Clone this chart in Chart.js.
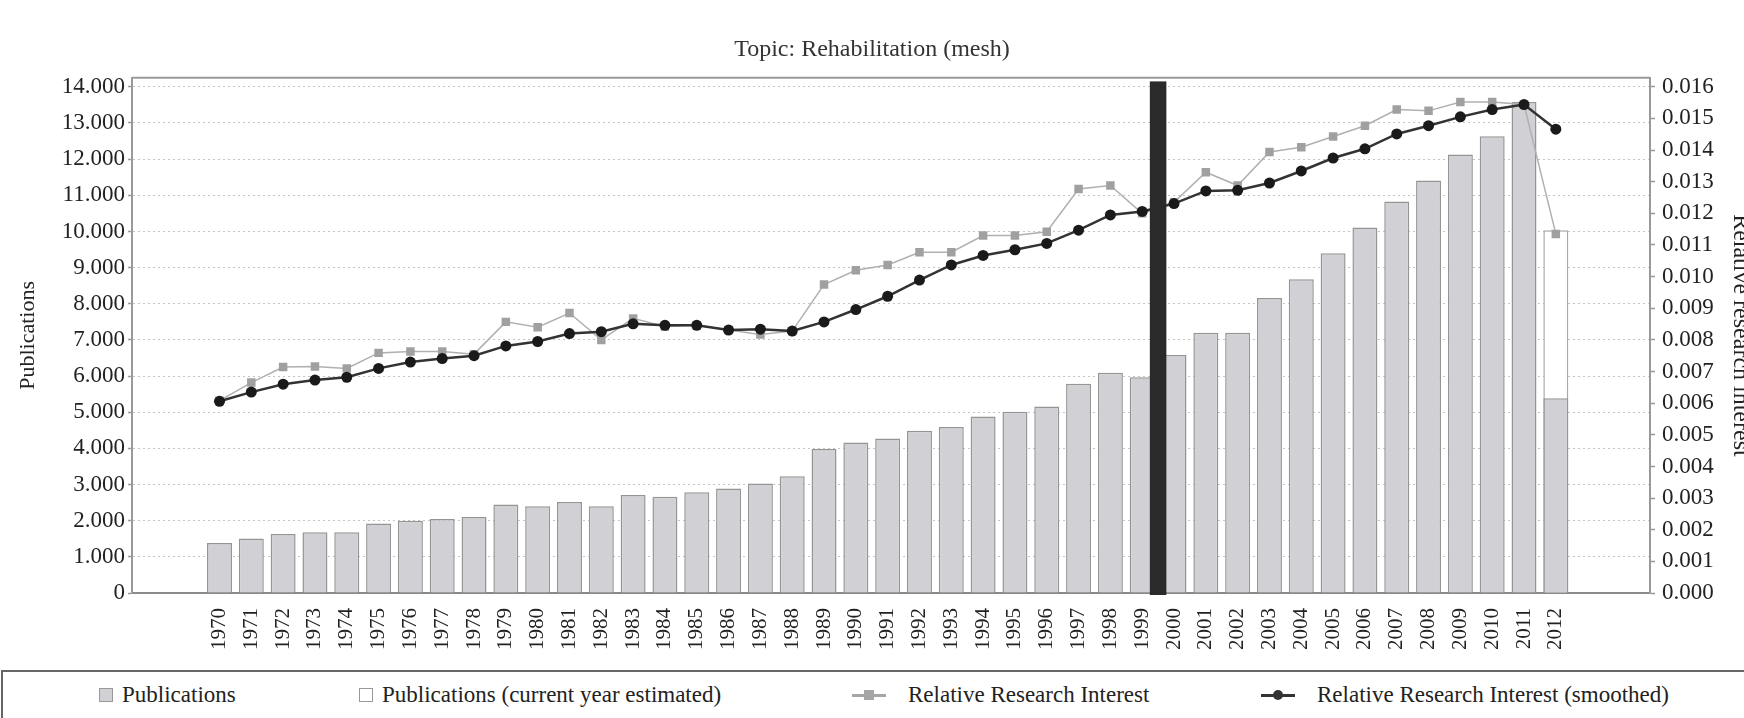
<!DOCTYPE html>
<html>
<head>
<meta charset="utf-8">
<script src="https://cdn.jsdelivr.net/npm/chart.js@4.4.1/dist/chart.umd.min.js"></script>
<style>
  html, body { margin: 0; padding: 0; background: #fff; overflow: hidden; }
  #wrap { position: relative; width: 1744px; height: 718px; }
  #chart { position: absolute; left: 0; top: 0; }
  #legenda { position: absolute; left: 1px; top: 670px; width: 1800px; height: 80px;
             border: 2px solid #666; box-sizing: border-box; font: 23px "Liberation Serif", serif; color: #222; }
  .item { position: absolute; top: 10px; display: flex; align-items: center; white-space: nowrap; }
  .box { width: 12px; height: 12px; border: 1px solid #999; margin-right: 9px; }
  .linha { position: relative; width: 34px; height: 12px; margin-right: 22px; }
  .linha::before { content: ""; position: absolute; left: 0; right: 0; top: 5px; height: 3px; background: var(--c); }
  .linha span { position: absolute; left: 12px; top: 1px; width: 10px; height: 10px; background: var(--c); }
</style>
</head>
<body>
<div id="wrap">
  <canvas id="chart" width="1744" height="660"></canvas>
  <div id="legenda">
    <div class="item" style="left:96px"><div class="box" style="background:#d1d1d5"></div>Publications</div>
    <div class="item" style="left:356px"><div class="box" style="background:#fff"></div>Publications (current year estimated)</div>
    <div class="item" style="left:849px"><div class="linha" style="--c:#a6a6a6"><span></span></div>Relative Research Interest</div>
    <div class="item" style="left:1258px"><div class="linha" style="--c:#333"><span style="border-radius:50%"></span></div>Relative Research Interest (smoothed)</div>
  </div>
</div>
<script>
const anos = [1970, 1971, 1972, 1973, 1974, 1975, 1976, 1977, 1978, 1979,
              1980, 1981, 1982, 1983, 1984, 1985, 1986, 1987, 1988, 1989,
              1990, 1991, 1992, 1993, 1994, 1995, 1996, 1997, 1998, 1999,
              2000, 2001, 2002, 2003, 2004, 2005, 2006, 2007, 2008, 2009,
              2010, 2011, 2012];

const publicacoes = [1380, 1510, 1630, 1680, 1680, 1920, 2000, 2050, 2100, 2450,
                     2400, 2520, 2400, 2710, 2660, 2790, 2890, 3030, 3230, 3980,
                     4160, 4270, 4490, 4590, 4880, 5010, 5160, 5790, 6090, 5970,
                     6580, 7200, 7200, 8160, 8680, 9400, 10110, 10830, 11410, 12130,
                     12630, 13580, 5390];

// ano corrente estimado (so 2012)
const anosEstimados = [2012];
const publicacoesEstimadas = [10030];

const interesse = [0.00608, 0.00665, 0.00714, 0.00716, 0.00710, 0.00759, 0.00763, 0.00763, 0.00755, 0.00857,
                   0.00840, 0.00885, 0.00800, 0.00868, 0.00842, 0.00846, 0.00831, 0.00817, 0.00828, 0.00975,
                   0.01020, 0.01037, 0.01077, 0.01077, 0.01130, 0.01130, 0.01142, 0.01277, 0.01288, 0.01200,
                   0.01235, 0.01330, 0.01288, 0.01394, 0.01409, 0.01443, 0.01477, 0.01528, 0.01524, 0.01552,
                   0.01552, 0.01544, 0.01135];

const interesseSuave = [0.00606, 0.00635, 0.00660, 0.00673, 0.00682, 0.00710, 0.00730, 0.00741, 0.00750, 0.00781,
                        0.00795, 0.00820, 0.00826, 0.00851, 0.00846, 0.00846, 0.00831, 0.00834, 0.00828, 0.00857,
                        0.00896, 0.00938, 0.00989, 0.01037, 0.01067, 0.01085, 0.01105, 0.01147, 0.01195, 0.01206,
                        0.01231, 0.01271, 0.01273, 0.01296, 0.01334, 0.01375, 0.01404, 0.01451, 0.01477, 0.01505,
                        0.01528, 0.01544, 0.01466];

const ticksPub = [0, 1000, 2000, 3000, 4000, 5000, 6000, 7000, 8000, 9000, 10000, 11000, 12000, 13000, 14000];
const ticksInteresse = [0, 0.001, 0.002, 0.003, 0.004, 0.005, 0.006, 0.007, 0.008,
                        0.009, 0.010, 0.011, 0.012, 0.013, 0.014, 0.015, 0.016];

// marcador vertical entre 1999 e 2000
const divisorAno = 1999.5;
const divisorTopo = 14150;

const fonteSerif = '"Liberation Serif", "Times New Roman", serif';

const pares = (xs, ys) => xs.map((x, i) => ({ x: x, y: ys[i] }));

const molduraPlugin = {
    id: 'moldura',
    afterDatasetsDraw(chart) {
        const { ctx, chartArea, scales } = chart;
        // barra preta
        const x0 = scales.x.getPixelForValue(divisorAno - 0.26);
        const x1 = scales.x.getPixelForValue(divisorAno + 0.26);
        const yTop = scales.y.getPixelForValue(divisorTopo);
        ctx.save();
        ctx.fillStyle = '#2a2a2a';
        ctx.fillRect(x0, yTop, x1 - x0, chartArea.bottom + 2 - yTop);
        // linha de cima
        ctx.strokeStyle = '#9a9a9a';
        ctx.lineWidth = 2;
        ctx.beginPath();
        ctx.moveTo(chartArea.left, chartArea.top);
        ctx.lineTo(chartArea.right, chartArea.top);
        ctx.stroke();
        ctx.restore();
    },
    afterDraw(chart) {
        // titulo do eixo direito, cortado na borda
        const { ctx, chartArea } = chart;
        ctx.save();
        ctx.translate(1734, (chartArea.top + chartArea.bottom) / 2);
        ctx.rotate(Math.PI / 2);
        ctx.font = '24px ' + fonteSerif;
        ctx.fillStyle = '#222';
        ctx.textAlign = 'center';
        ctx.textBaseline = 'alphabetic';
        ctx.fillText('Relative research interest', 0, 0);
        ctx.restore();
    }
};

const ctx = document.getElementById('chart').getContext('2d');
new Chart(ctx, {
    type: 'bar',
    data: {
        datasets: [
            {
                type: 'line', label: 'Relative Research Interest (smoothed)', yAxisID: 'y2', order: 0,
                data: pares(anos, interesseSuave),
                borderColor: '#333', borderWidth: 2.5, backgroundColor: '#1a1a1a',
                pointStyle: 'circle', pointRadius: 5.5, pointBorderWidth: 0, tension: 0
            },
            {
                type: 'line', label: 'Relative Research Interest', yAxisID: 'y2', order: 1,
                data: pares(anos, interesse),
                borderColor: '#b0b0b0', borderWidth: 1.5, backgroundColor: '#a0a0a0',
                pointStyle: 'rect', pointRadius: 6, pointBorderWidth: 0, tension: 0
            },
            {
                label: 'Publications', yAxisID: 'y', order: 2,
                data: pares(anos, publicacoes),
                backgroundColor: '#d1d1d5', borderColor: '#959595', borderWidth: 1.5,
                barPercentage: 0.785, categoryPercentage: 1, grouped: false
            },
            {
                label: 'Publications (current year estimated)', yAxisID: 'y', order: 3,
                data: pares(anosEstimados, publicacoesEstimadas),
                backgroundColor: '#ffffff', borderColor: '#a8a8a8', borderWidth: 1.5,
                barPercentage: 0.785, categoryPercentage: 1, grouped: false
            }
        ]
    },
    options: {
        responsive: false,
        animation: false,
        devicePixelRatio: 1,
        layout: { padding: 0 },
        plugins: {
            legend: { display: false },
            tooltip: { enabled: false },
            title: {
                display: true,
                text: 'Topic: Rehabilitation (mesh)',
                color: '#333',
                font: { family: fonteSerif, size: 24, weight: 'normal' },
                padding: { top: 35, bottom: 14 }
            }
        },
        scales: {
            x: {
                type: 'linear', min: 1967.25, max: 2014.96, offset: false,
                afterBuildTicks: s => { s.ticks = anos.map(v => ({ value: v })); },
                afterFit: s => { s.height = 67; },
                grid: { display: false, offset: false },
                border: { color: '#8a8a8a', width: 2 },
                ticks: {
                    autoSkip: false, minRotation: 90, maxRotation: 90, padding: 7,
                    color: '#222', font: { family: fonteSerif, size: 21 },
                    callback: v => String(v)
                }
            },
            y: {
                position: 'left', min: 0, max: 14250,
                afterBuildTicks: s => { s.ticks = ticksPub.map(v => ({ value: v })); },
                afterFit: s => { s.width = 132; },
                grid: { color: '#c4c4c4', lineWidth: 1, tickLength: 4, tickColor: '#999', tickWidth: 1.5 },
                border: { color: '#9a9a9a', width: 2, dash: [2, 3] },
                ticks: {
                    padding: 3, color: '#222', font: { family: fonteSerif, size: 23 },
                    callback: v => v === 0 ? '0' : (v / 1000).toFixed(3)
                },
                title: {
                    display: true, text: 'Publications', color: '#222',
                    font: { family: fonteSerif, size: 22 }, padding: { top: 15, bottom: 0 }
                }
            },
            y2: {
                position: 'right', min: 0, max: 0.016285,
                afterBuildTicks: s => { s.ticks = ticksInteresse.map(v => ({ value: v })); },
                afterFit: s => { s.width = 94; },
                grid: { drawOnChartArea: false, tickLength: 5, tickColor: '#999', tickWidth: 1.5 },
                border: { color: '#9a9a9a', width: 2 },
                ticks: {
                    padding: 7, color: '#222', font: { family: fonteSerif, size: 23 },
                    callback: v => v.toFixed(3)
                }
            }
        }
    },
    plugins: [molduraPlugin]
});
</script>
</body>
</html>
